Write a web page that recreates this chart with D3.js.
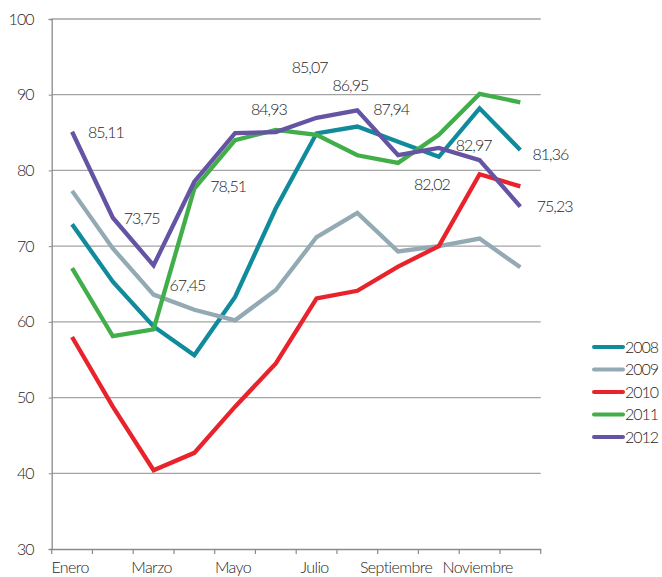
<!DOCTYPE html>
<html>
<head>
<meta charset="utf-8">
<script src="https://cdn.jsdelivr.net/npm/d3@7"></script>
<style>
  html, body { margin: 0; padding: 0; background: #fff; }
  svg { display: block; }
  text { font-family: Lato, "Open Sans", sans-serif; fill: #262626; font-weight: 300; }
</style>
</head>
<body>
<svg id="chart" width="662" height="577"></svg>
<script>
const months = ["Enero","Febrero","Marzo","Abril","Mayo","Junio","Julio","Agosto","Septiembre","Octubre","Noviembre","Diciembre"];
const shownMonths = ["Enero","Marzo","Mayo","Julio","Septiembre","Noviembre"];
const yTicks = [30,40,50,60,70,80,90,100];
const years = ["2008","2009","2010","2011","2012"];
const s2008 = [72.9, 65.3, 59.4, 55.6, 63.3, 75.0, 84.9, 85.8, 83.8, 81.8, 88.2, 82.7];
const s2009 = [77.3, 69.7, 63.6, 61.6, 60.2, 64.2, 71.2, 74.4, 69.3, 70.0, 71.0, 67.2];
const s2010 = [58.0, 48.8, 40.4, 42.7, 48.8, 54.5, 63.1, 64.1, 67.3, 70.0, 79.5, 77.9];
const s2011 = [67.1, 58.1, 59.0, 77.6, 84.0, 85.35, 84.7, 82.0, 81.0, 84.7, 90.1, 89.0];
const s2012 = [85.11, 73.75, 67.45, 78.51, 84.93, 85.07, 86.95, 87.94, 82.02, 82.97, 81.36, 75.23];
const colors = ["#0f8b9b", "#93aab4", "#e8232b", "#42ae4a", "#6553a4"];

// label placement offsets (layout only): [dx, dy] from the 2012 point
const labelOffsets = [[16,1],[11,0.5],[16,19.5],[16,5],[16,-24],[16,-64.5],[16,-32],[16,-0.5],[16,29],[17,-2.5],[53,-6],[16.5,-0.5]];

const series = [s2008, s2009, s2010, s2011, s2012];
const svg = d3.select("#chart");
const mLeft = 51.7, mRight = 540.7, mTop = 19, mBottom = 549;

const x = d3.scaleBand().domain(months).range([mLeft, mRight]).padding(0);
const y = d3.scaleLinear().domain([30, 100]).range([mBottom, mTop]);

// gridlines
svg.append("g").selectAll("line").data(yTicks.filter(d => d > 30)).join("line")
  .attr("x1", mLeft).attr("x2", mRight)
  .attr("y1", d => y(d)).attr("y2", d => y(d))
  .attr("stroke", "#a3a3a3").attr("stroke-width", 1.3);

// y axis
const yAxis = svg.append("g").attr("transform", `translate(${mLeft},0)`)
  .call(d3.axisLeft(y).tickValues(yTicks).tickSize(3).tickPadding(15).tickFormat(d3.format("d")));
yAxis.select(".domain").attr("stroke", "#8a8a8a").attr("stroke-width", 1.3);
yAxis.selectAll(".tick line").attr("stroke", "#8a8a8a");
yAxis.selectAll(".tick text").attr("font-size", 16).attr("letter-spacing", "-0.9px")
  .style("font-family", "Lato, sans-serif").attr("fill", "#262626");

// x axis
const xAxis = svg.append("g").attr("transform", `translate(0,${mBottom})`)
  .call(d3.axisBottom(x).tickSize(0).tickPadding(13).tickFormat(d => shownMonths.includes(d) ? d : ""));
xAxis.select(".domain").attr("stroke", "#8a8a8a").attr("stroke-width", 1.3);
xAxis.selectAll(".tick text").attr("font-size", 16).attr("letter-spacing", "-0.6px")
  .style("font-family", "Lato, sans-serif").attr("fill", "#262626")
  .attr("dx", -2);
// tick marks at band boundaries
const bounds = months.map(m => x(m)).concat([x(months[months.length-1]) + x.bandwidth()]);
xAxis.append("g").selectAll("line").data(bounds).join("line")
  .attr("x1", d => d).attr("x2", d => d).attr("y1", 0).attr("y2", 5)
  .attr("stroke", "#8a8a8a").attr("stroke-width", 1.2);

// lines
const line = d3.line().x((d, i) => x(months[i]) + x.bandwidth() / 2).y(d => y(d));
svg.append("g").selectAll("path").data(series).join("path")
  .attr("d", d => line(d))
  .attr("fill", "none")
  .attr("stroke", (d, i) => colors[i])
  .attr("stroke-width", 4.3)
  .attr("stroke-linejoin", "miter")
  .attr("stroke-linecap", "butt");

// data labels for 2012
const fmt = v => d3.format(".2f")(v).replace(".", ",");
svg.append("g").selectAll("text").data(s2012).join("text")
  .attr("x", (d, i) => x(months[i]) + x.bandwidth() / 2 + labelOffsets[i][0])
  .attr("y", (d, i) => y(d) + labelOffsets[i][1])
  .attr("dy", "0.35em")
  .attr("font-size", 16).attr("letter-spacing", "-1px")
  .text(fmt);

// legend
const legend = svg.append("g").attr("transform", "translate(592,347)");
const items = legend.selectAll("g").data(years).join("g")
  .attr("transform", (d, i) => `translate(0,${i * 22.5})`);
items.append("line").attr("x1", 2).attr("x2", 31).attr("y1", 0).attr("y2", 0)
  .attr("stroke", (d, i) => colors[i]).attr("stroke-width", 4).attr("stroke-linecap", "round");
items.append("text").attr("x", 33).attr("y", 0).attr("dy", "0.35em")
  .attr("font-size", 16).attr("letter-spacing", "-1px").text(d => d);
</script>
</body>
</html>
